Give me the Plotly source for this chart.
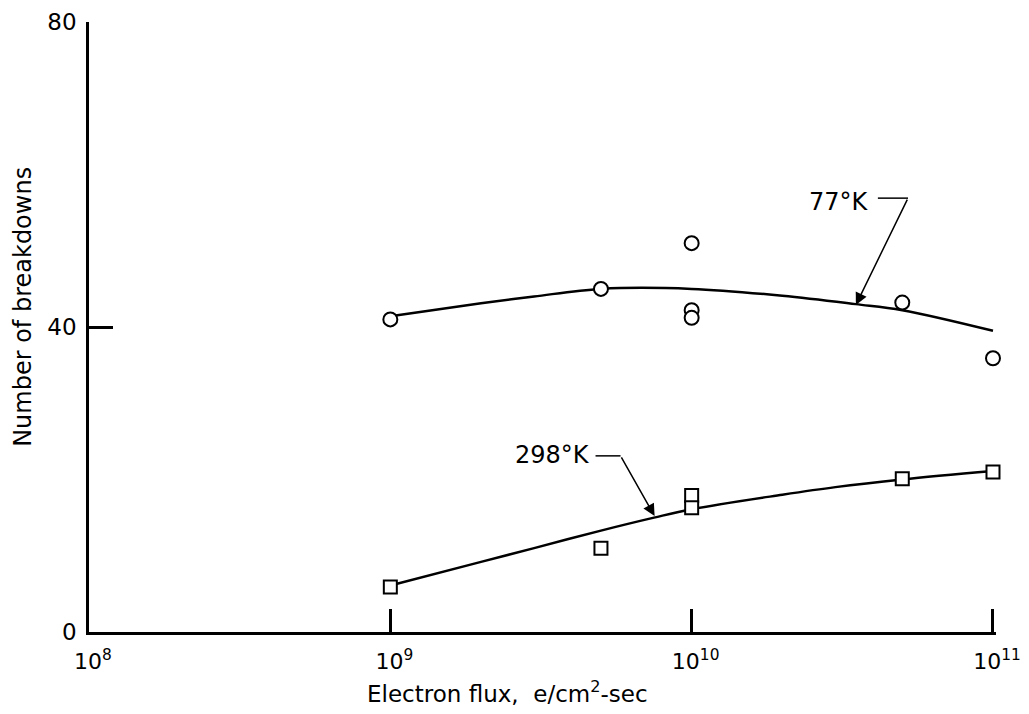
import plotly.graph_objects as go

# measured points, 77 K (circles)
flux_77 = [1e9, 5e9, 1e10, 1e10, 1e10, 5e10, 1e11]
breakdowns_77 = [41.0, 45.0, 51.0, 42.2, 41.2, 43.2, 35.9]

# measured points, 298 K (squares)
flux_298 = [1e9, 5e9, 1e10, 1e10, 5e10, 1e11]
breakdowns_298 = [5.9, 11.0, 17.9, 16.3, 20.1, 21.0]

# hand-drawn fit curves
curve_flux_77 = [1e9, 2e9, 3e9, 5e9, 1e10, 2e10, 3.5e10, 5e10, 1e11]
curve_77 = [41.4, 43.1, 44.0, 45.0, 45.0, 44.1, 43.0, 42.2, 39.5]
curve_flux_298 = [1e9, 2e9, 3e9, 5e9, 7.5e9, 1e10, 2e10, 3e10, 5e10, 1e11]
curve_298 = [6.1, 9.2, 11.0, 13.3, 15.0, 16.1, 18.0, 19.0, 20.0, 21.1]

x_ticks = [1e8, 1e9, 1e10, 1e11]
x_ticktext = ["10<sup>8</sup>", "10<sup>9</sup>", "10<sup>10</sup>", "10<sup>11</sup>"]
y_ticks = [0, 40, 80]

x_title = "Electron flux,  e/cm<sup>2</sup>-sec"
y_title = "Number of breakdowns"

# label callouts: (label, text pos log10 x, y, leader start/end log10 x, leader y, arrow tip log10 x, y)
callouts = [
    ("77°K", 10.488, 56.4, 10.618, 10.718, 56.9, 10.545, 42.9),
    ("298°K", 9.538, 23.2, 9.681, 9.764, 23.1, 9.877, 15.2),
]

FONT = "DejaVu Sans"
INK = "black"

fig = go.Figure()

fig.add_trace(go.Scatter(
    x=curve_flux_77, y=curve_77, mode="lines",
    line=dict(color=INK, width=2.5, shape="spline", smoothing=1.0),
    showlegend=False, hoverinfo="skip",
))
fig.add_trace(go.Scatter(
    x=curve_flux_298, y=curve_298, mode="lines",
    line=dict(color=INK, width=2.5, shape="spline", smoothing=1.0),
    showlegend=False, hoverinfo="skip",
))

fig.add_trace(go.Scatter(
    x=flux_77, y=breakdowns_77, mode="markers", name="77°K",
    marker=dict(symbol="circle", size=14, color="white",
                line=dict(color=INK, width=2)),
    cliponaxis=False, showlegend=False,
))
fig.add_trace(go.Scatter(
    x=flux_298, y=breakdowns_298, mode="markers", name="298°K",
    marker=dict(symbol="square", size=13, color="white",
                line=dict(color=INK, width=2)),
    cliponaxis=False, showlegend=False,
))

for label, tx, ty, lx0, lx1, ly, px, py in callouts:
    fig.add_annotation(
        x=tx, y=ty, text=label, showarrow=False,
        font=dict(family=FONT, size=24, color=INK),
    )
    # short horizontal leader next to the label
    fig.add_trace(go.Scatter(
        x=[10 ** lx0, 10 ** lx1], y=[ly, ly], mode="lines",
        line=dict(color=INK, width=1.5), showlegend=False, hoverinfo="skip",
    ))
    fig.add_annotation(
        x=px, y=py, ax=lx1, ay=ly, axref="x", ayref="y",
        text="", showarrow=True, arrowhead=2, arrowsize=1.6,
        arrowwidth=1.5, arrowcolor=INK,
    )

# axis titles as free text, they sit off-centre in the original
fig.add_annotation(
    xref="paper", yref="paper", x=0.461, y=0, yshift=-60,
    xanchor="center", yanchor="middle", text=x_title, showarrow=False,
    font=dict(family=FONT, size=23, color=INK),
)
fig.add_annotation(
    xref="paper", yref="paper", x=0, y=0.533, xshift=-66,
    xanchor="center", yanchor="middle", textangle=-90, text=y_title,
    showarrow=False, font=dict(family=FONT, size=24, color=INK),
)

fig.update_xaxes(
    type="log", range=[8, 11.01],
    tickvals=x_ticks, ticktext=x_ticktext,
    ticks="inside", ticklen=23, tickwidth=2.5, tickcolor=INK,
    ticklabelshift=4, ticklabelstandoff=8, ticklabeloverflow="allow",
    showline=True, linecolor=INK, linewidth=2.5,
    showgrid=False, zeroline=False,
    tickfont=dict(family=FONT, size=22, color=INK),
)
fig.update_yaxes(
    range=[0, 80], tickvals=y_ticks,
    ticks="inside", ticklen=24, tickwidth=2.5, tickcolor=INK,
    ticklabelstandoff=5,
    showline=True, linecolor=INK, linewidth=2.5,
    showgrid=False, zeroline=False,
    tickfont=dict(family=FONT, size=23, color=INK),
)

fig.update_layout(
    plot_bgcolor="white",
    paper_bgcolor="white",
    margin=dict(l=81, r=25, t=14, b=74, autoexpand=False),
    showlegend=False,
)

fig.write_html("out.html")
